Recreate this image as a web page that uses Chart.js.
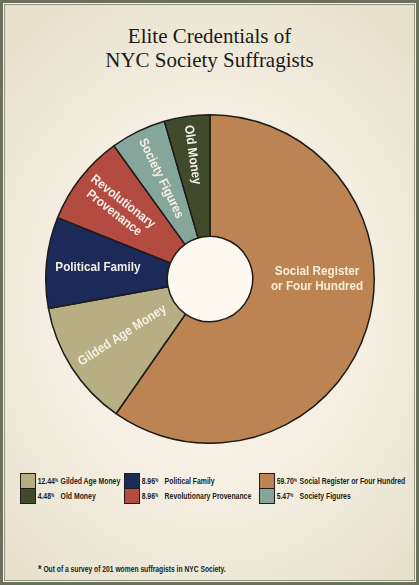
<!DOCTYPE html>
<html>
<head>
<meta charset="utf-8">
<script src="https://cdn.jsdelivr.net/npm/chart.js@4"></script>
<style>
  html, body {
    margin: 0;
    padding: 0;
  }
  body {
    width: 419px;
    height: 585px;
    overflow: hidden;
    position: relative;
    font-family: 'Liberation Sans', Arial, sans-serif;
  }
  .frame {
    position: absolute;
    left: 0;
    top: 0;
    width: 419px;
    height: 585px;
    box-sizing: border-box;
    border: 3px solid #6c715d;
    box-shadow: inset 0 0 0 1px #f6f3e8, inset 0 0 0 2px #8f927f;
    background: radial-gradient(ellipse 70% 60% at 50% 52%, #fbf6ec 0%, #f5efe3 55%, #e7e1cc 100%);
  }
  h1 {
    position: absolute;
    left: 0;
    top: 24px;
    width: 419px;
    margin: 0;
    text-align: center;
    font-family: 'Liberation Serif', 'DejaVu Serif', serif;
    font-weight: normal;
    font-size: 21px;
    line-height: 24px;
    color: #1b1a17;
  }
  #chartBox {
    position: absolute;
    left: 45px;
    top: 114px;
    width: 330px;
    height: 330px;
  }
  #legend {
    position: absolute;
    left: 0;
    top: 473px;
    width: 419px;
    height: 40px;
  }
  .item {
    position: absolute;
    display: flex;
    align-items: center;
    height: 16px;
    color: #232220;
    white-space: nowrap;
  }
  .swatch {
    width: 16px;
    height: 16px;
    box-sizing: border-box;
    border: 1.5px solid #1d1d1b;
  }
  .txt {
    display: inline-block;
    font-size: 8.4px;
    font-weight: bold;
    padding-left: 2px;
    transform: scaleX(0.82);
    transform-origin: left center;
  }
  .value {
    display: inline-block;
    width: 28px;
  }
  .value sup {
    font-size: 4.5px;
    vertical-align: 2.5px;
  }
  .note {
    position: absolute;
    left: 38px;
    top: 563px;
    font-size: 8.2px;
    font-weight: bold;
    color: #232220;
    white-space: nowrap;
    transform: scaleX(0.82);
    transform-origin: left center;
  }
  .note span {
    font-size: 11px;
    vertical-align: -1px;
  }
</style>
</head>
<body>
<div class="frame"></div>
<h1>Elite Credentials of<br>NYC Society Suffragists</h1>
<div id="chartBox"><canvas id="suffragistChart"></canvas></div>
<div id="legend"></div>
<div class="note"><span>*</span> Out of a survey of 201 women suffragists in NYC Society.</div>

<script>
// slices, clockwise from the top
const categories = [
  'Social Register or Four Hundred',
  'Gilded Age Money',
  'Political Family',
  'Revolutionary Provenance',
  'Society Figures',
  'Old Money',
]
const sliceText = [
  ['Social Register', 'or Four Hundred'],
  ['Gilded Age Money'],
  ['Political Family'],
  ['Revolutionary', 'Provenance'],
  ['Society Figures'],
  ['Old Money'],
]
const shares = [59.7, 12.44, 8.96, 8.96, 5.47, 4.48]
const sliceColors = ['#bc8453', '#b8ae83', '#1b2a58', '#b34b41', '#87a69b', '#414b2c']

const labelFont = "'Liberation Sans', Arial, sans-serif"
const squeeze = 0.9

// draws the hole and the text inside each slice
const sliceLabels = {
  id: 'sliceLabels',
  beforeDatasetsDraw(chart) {
    const arc = chart.getDatasetMeta(0).data[0]
    if (!arc) return
    const { x, y, innerRadius } = arc.getProps(['x', 'y', 'innerRadius'], true)
    const ctx = chart.ctx
    ctx.save()
    ctx.fillStyle = '#fdf9f1'
    ctx.beginPath()
    ctx.arc(x, y, innerRadius, 0, Math.PI * 2)
    ctx.fill()
    ctx.restore()
  },
  afterDatasetsDraw(chart) {
    const ctx = chart.ctx
    const meta = chart.getDatasetMeta(0)
    ctx.save()
    ctx.font = `bold 13px ${labelFont}`
    ctx.textAlign = 'center'
    ctx.textBaseline = 'middle'
    meta.data.forEach((arc, i) => {
      const p = arc.getProps(['x', 'y', 'startAngle', 'endAngle', 'innerRadius', 'outerRadius'], true)
      const span = p.endAngle - p.startAngle
      const lines = sliceText[i]
      const widest = Math.max(...lines.map(l => ctx.measureText(l).width)) * squeeze
      let angle = (p.startAngle + p.endAngle) / 2
      let rotation = angle - Math.PI
      // push the text outwards, but keep it inside the ring
      let r = Math.min(p.innerRadius + 0.68 * (p.outerRadius - p.innerRadius), p.outerRadius - widest / 2 - 9)
      if (span > Math.PI) {
        // big slice: horizontal text, level with the centre
        angle = 0
        rotation = 0
        r = p.innerRadius + 0.53 * (p.outerRadius - p.innerRadius)
      } else if (Math.abs(rotation) < 0.18) {
        rotation = 0
      }
      const lineHeight = 14.5
      ctx.save()
      ctx.translate(p.x + Math.cos(angle) * r, p.y + Math.sin(angle) * r)
      ctx.rotate(rotation)
      ctx.scale(squeeze, 1)
      ctx.fillStyle = i === 0 ? '#f6eedb' : '#f4f0e6'
      lines.forEach((line, j) => {
        ctx.fillText(line, 0, (j - (lines.length - 1) / 2) * lineHeight)
      })
      ctx.restore()
    })
    ctx.restore()
  },
}

function buildLegend() {
  const legend = document.getElementById('legend')
  const order = categories.map((c, i) => i).sort((a, b) => (categories[a] < categories[b] ? -1 : 1))
  const columnLeft = [20, 124, 259]

  order.forEach((idx, n) => {
    const item = document.createElement('div')
    item.className = 'item'
    item.style.left = columnLeft[Math.floor(n / 2)] + 'px'
    item.style.top = (n % 2) * 16 - (n % 2) + 'px'

    const swatch = document.createElement('div')
    swatch.className = 'swatch'
    swatch.style.background = sliceColors[idx]
    item.appendChild(swatch)

    const txt = document.createElement('span')
    txt.className = 'txt'

    const value = document.createElement('span')
    value.className = 'value'
    value.innerHTML = shares[idx].toFixed(2) + '<sup>%</sup>'
    txt.appendChild(value)

    const label = document.createElement('span')
    label.textContent = categories[idx]
    txt.appendChild(label)

    item.appendChild(txt)
    legend.appendChild(item)
  })
}

function drawChart() {
  const ctx = document.getElementById('suffragistChart').getContext('2d')

  new Chart(ctx, {
    type: 'doughnut',
    data: {
      labels: categories,
      datasets: [
        {
          data: shares,
          backgroundColor: sliceColors,
          borderColor: '#1c1c1a',
          borderWidth: 1.5,
          hoverOffset: 0,
        },
      ],
    },
    options: {
      responsive: true,
      maintainAspectRatio: false,
      animation: false,
      cutout: '26%',
      layout: { padding: 0 },
      plugins: {
        legend: { display: false },
        tooltip: { enabled: false },
      },
    },
    plugins: [sliceLabels],
  })
}

buildLegend()
drawChart()
</script>
</body>
</html>
